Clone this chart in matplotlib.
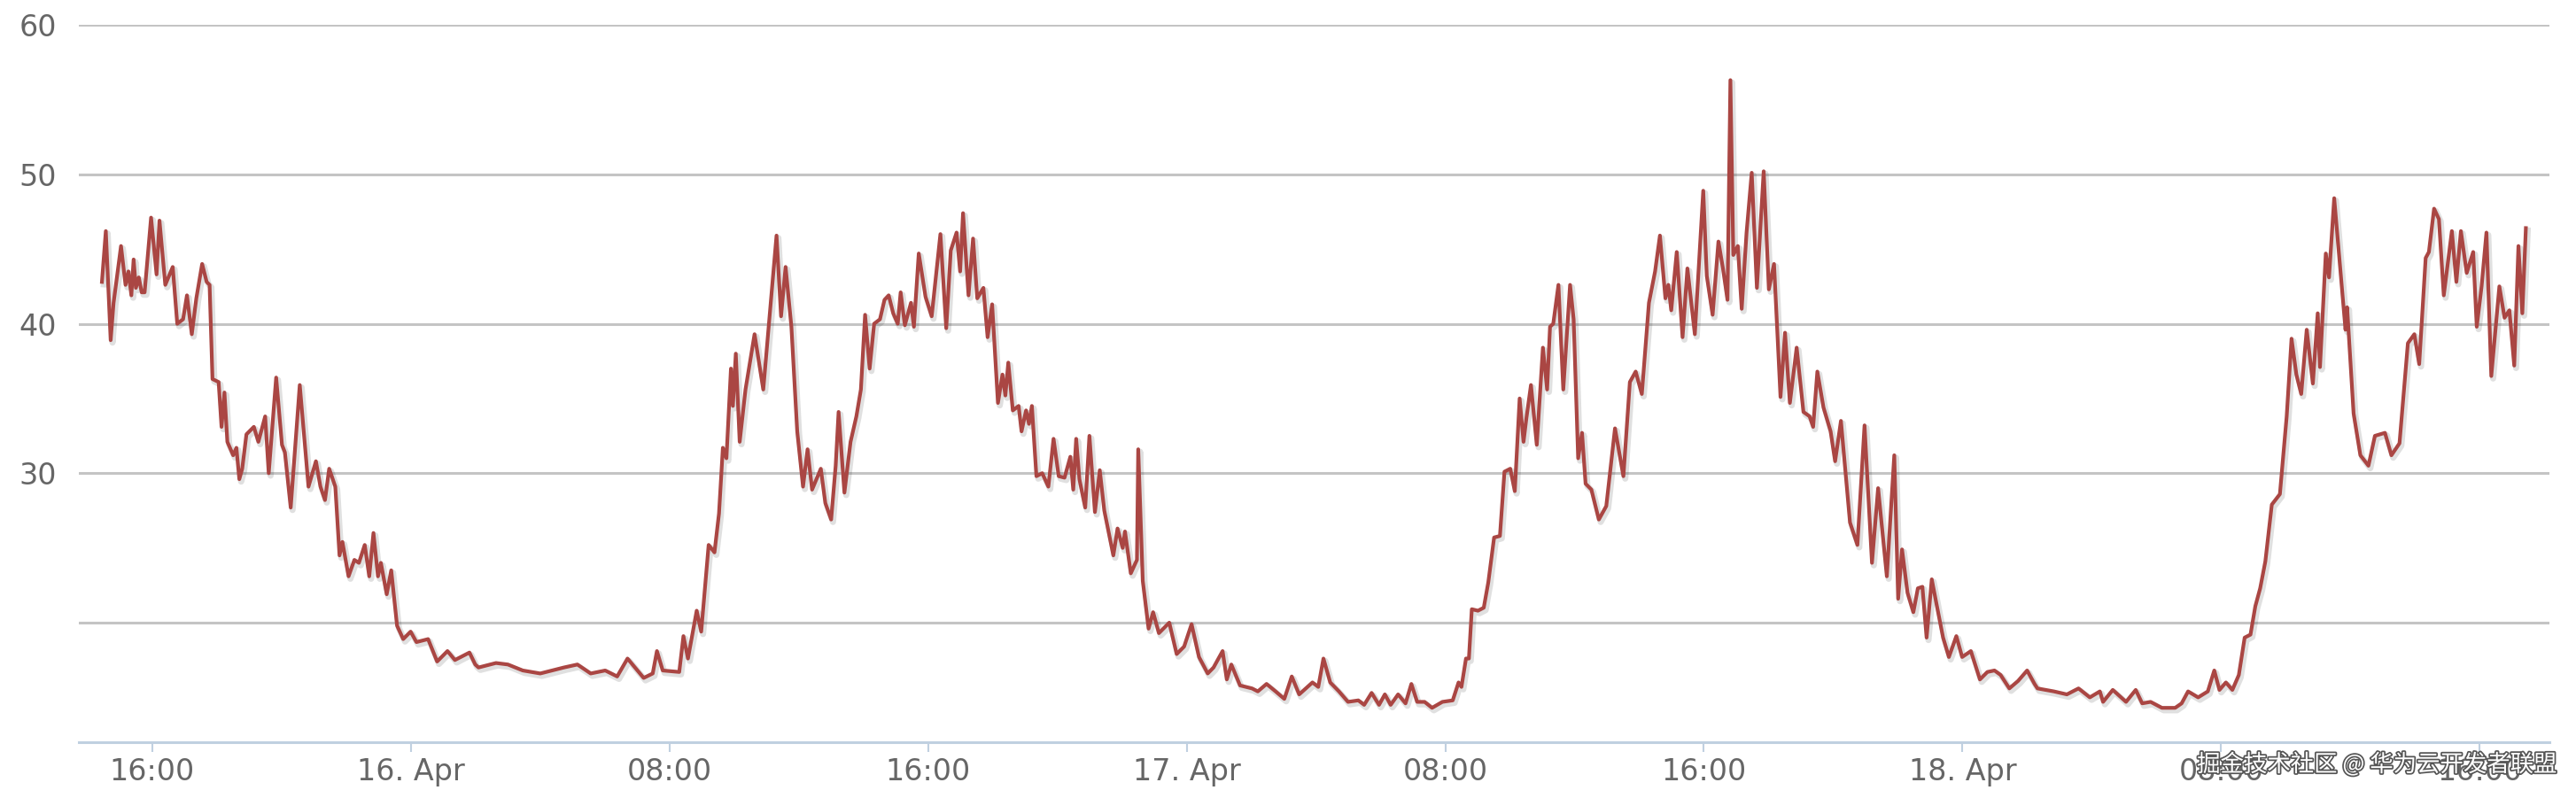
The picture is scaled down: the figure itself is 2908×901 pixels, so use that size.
import matplotlib
matplotlib.use("Agg")
import matplotlib.pyplot as plt
import matplotlib.dates as mdates
import matplotlib.patheffects as pe
import numpy as np
import datetime as dt

# hours since 15 Apr 00:00, and the value
hours_15pm = [14.44, 14.56, 14.71, 14.80, 15.03, 15.17, 15.26, 15.35, 15.42, 15.49, 15.58, 15.67,
              15.76, 15.96, 16.13, 16.22, 16.40, 16.63, 16.77, 16.95, 17.07, 17.22, 17.36, 17.54,
              17.68, 17.77, 17.86, 18.05, 18.14, 18.23, 18.32, 18.50, 18.60, 18.69, 18.78, 18.91,
              19.14, 19.28, 19.49, 19.60, 19.83, 20.01, 20.10, 20.28, 20.56, 20.83, 21.06, 21.20,
              21.34, 21.47, 21.66, 21.79, 21.88, 22.07, 22.25, 22.39, 22.57, 22.71, 22.84, 22.98,
              23.07, 23.25, 23.39, 23.57, 23.76, 23.99, 24.17, 24.53, 24.81, 25.13, 25.36, 25.81,
              25.99]
vals_15pm = [42.8, 46.2, 38.9, 41.4, 45.2, 42.6, 43.5, 41.9, 44.3, 42.4, 43.1, 42.1,
             42.1, 47.1, 43.3, 46.9, 42.6, 43.8, 40.0, 40.3, 41.9, 39.3, 41.7, 44.0,
             42.8, 42.6, 36.3, 36.1, 33.1, 35.4, 32.1, 31.2, 31.7, 29.6, 30.3, 32.6,
             33.1, 32.1, 33.8, 30.0, 36.4, 31.9, 31.4, 27.7, 35.9, 29.1, 30.8, 29.1,
             28.2, 30.3, 29.1, 24.5, 25.4, 23.1, 24.2, 24.0, 25.2, 23.1, 26.0, 23.1,
             24.0, 21.9, 23.5, 19.8, 18.9, 19.4, 18.7, 18.9, 17.4, 18.1, 17.5, 18.0,
             17.2]

hours_16 = [26.09, 26.63, 27.00, 27.46, 28.00, 28.73, 29.15, 29.56, 30.01, 30.38, 30.70, 31.20,
            31.48, 31.61, 31.79, 32.30, 32.43, 32.57, 32.84, 32.98, 33.21, 33.39, 33.53, 33.65,
            33.76, 33.90, 33.96, 34.05, 34.17, 34.35, 34.63, 34.90, 35.31, 35.45, 35.59, 35.77,
            35.95, 36.13, 36.27, 36.41, 36.68, 36.82, 37.00, 37.14, 37.23, 37.41, 37.60, 37.78,
            37.92, 38.05, 38.19, 38.33, 38.51, 38.65, 38.78, 38.92, 39.06, 39.15, 39.28, 39.47,
            39.56, 39.71, 39.92, 40.11, 40.38, 40.56, 40.70, 40.88, 40.99, 41.08, 41.25, 41.39,
            41.52, 41.71, 41.84, 41.98, 42.16, 42.30, 42.39, 42.48, 42.62, 42.80, 42.89, 43.03,
            43.12, 43.21, 43.35, 43.53, 43.72, 43.88, 44.04, 44.22, 44.40, 44.49, 44.58, 44.68,
            44.86, 44.99, 45.16, 45.31, 45.45, 45.73, 45.86, 46.02, 46.09, 46.27, 46.46, 46.50,
            46.64, 46.82, 46.96, 47.14, 47.46, 47.69, 47.92, 48.15, 48.38, 48.65, 48.83, 49.11,
            49.24, 49.38, 49.65, 50.02]
vals_16 = [17.0, 17.3, 17.2, 16.8, 16.6, 17.0, 17.2, 16.6, 16.8, 16.4, 17.6, 16.3,
           16.6, 18.1, 16.8, 16.7, 19.1, 17.6, 20.8, 19.4, 25.2, 24.7, 27.3, 31.7,
           31.0, 37.0, 34.5, 38.0, 32.1, 35.6, 39.3, 35.6, 45.9, 40.5, 43.8, 39.8,
           32.8, 29.1, 31.6, 28.9, 30.3, 28.0, 26.9, 30.5, 34.1, 28.7, 32.1, 33.8,
           35.6, 40.6, 37.0, 40.0, 40.3, 41.6, 41.9, 40.7, 40.0, 42.1, 39.9, 41.4,
           39.8, 44.7, 41.8, 40.5, 46.0, 39.7, 44.9, 46.1, 43.5, 47.4, 41.9, 45.7,
           41.7, 42.4, 39.1, 41.3, 34.7, 36.6, 35.2, 37.4, 34.2, 34.5, 32.8, 34.2,
           33.3, 34.5, 29.8, 30.0, 29.1, 32.3, 29.8, 29.7, 31.1, 28.9, 32.3, 29.6,
           27.7, 32.5, 27.4, 30.2, 27.5, 24.5, 26.3, 25.0, 26.1, 23.3, 24.2, 31.6,
           22.8, 19.6, 20.7, 19.3, 20.0, 17.9, 18.4, 19.9, 17.7, 16.6, 17.0, 18.1,
           16.2, 17.2, 15.8, 15.6]

hours_17 = [50.20, 50.47, 50.75, 51.02, 51.25, 51.48, 51.89, 52.07, 52.23, 52.44, 52.71, 52.99,
            53.31, 53.49, 53.72, 53.95, 54.13, 54.31, 54.54, 54.77, 54.95, 55.13, 55.36, 55.59,
            55.91, 56.23, 56.41, 56.50, 56.64, 56.73, 56.82, 57.01, 57.19, 57.33, 57.51, 57.69,
            57.83, 58.01, 58.15, 58.30, 58.42, 58.51, 58.65, 58.83, 59.02, 59.15, 59.24, 59.34,
            59.50, 59.65, 59.86, 59.97, 60.11, 60.23, 60.34, 60.52, 60.75, 60.98, 61.25, 61.51,
            61.71, 61.89, 62.08, 62.30, 62.49, 62.64, 62.81, 62.90, 62.99, 63.16, 63.34, 63.49,
            63.72, 63.98, 64.09, 64.27, 64.45, 64.59, 64.73, 64.82, 64.91, 65.05, 65.17, 65.32,
            65.48, 65.64, 65.85, 66.01, 66.17, 66.37, 66.51, 66.66, 66.87, 67.08, 67.27, 67.38,
            67.51, 67.70, 67.92, 68.06, 68.24, 68.52, 68.75, 68.97, 69.20, 69.39, 69.66, 69.89,
            70.01, 70.13, 70.30, 70.48, 70.62, 70.76, 70.89, 71.05, 71.21, 71.40, 71.58, 71.81,
            71.99, 72.26, 72.54, 72.77, 72.99, 73.18, 73.45, 73.72, 74.00, 74.23]
vals_17 = [15.4, 15.9, 15.4, 14.9, 16.4, 15.2, 16.0, 15.7, 17.6, 16.0, 15.4, 14.7,
           14.8, 14.5, 15.3, 14.5, 15.2, 14.5, 15.2, 14.6, 15.9, 14.7, 14.7, 14.3,
           14.7, 14.8, 16.0, 15.7, 17.6, 17.6, 20.9, 20.8, 21.0, 22.7, 25.7, 25.8,
           30.1, 30.3, 28.8, 35.0, 32.1, 33.7, 35.9, 31.9, 38.4, 35.6, 39.8, 40.0,
           42.6, 35.6, 42.6, 40.3, 31.0, 32.7, 29.3, 28.9, 26.9, 27.8, 33.0, 29.8,
           36.1, 36.8, 35.3, 41.4, 43.5, 45.9, 41.7, 42.6, 40.9, 44.8, 39.1, 43.7,
           39.3, 48.9, 43.2, 40.6, 45.5, 43.7, 41.6, 56.3, 44.6, 45.2, 41.0, 46.1,
           50.1, 42.4, 50.2, 42.3, 44.0, 35.1, 39.4, 34.7, 38.4, 34.1, 33.8, 33.1,
           36.8, 34.4, 32.8, 30.8, 33.5, 26.7, 25.2, 33.2, 24.0, 29.0, 23.1, 31.2,
           21.6, 24.9, 22.0, 20.7, 22.3, 22.4, 19.0, 22.9, 21.1, 19.0, 17.7, 19.1,
           17.7, 18.1, 16.2, 16.7, 16.8, 16.5, 15.6, 16.1, 16.8, 15.9]

hours_18 = [74.32, 74.83, 75.23, 75.59, 75.94, 76.25, 76.35, 76.65, 77.06, 77.36, 77.56, 77.82,
            78.17, 78.58, 78.78, 78.98, 79.29, 79.59, 79.79, 79.95, 80.15, 80.35, 80.55, 80.73,
            80.91, 81.06, 81.21, 81.37, 81.57, 81.82, 82.03, 82.18, 82.33, 82.48, 82.65, 82.84,
            82.99, 83.06, 83.24, 83.34, 83.50, 83.70, 83.85, 83.90, 84.10, 84.31, 84.56, 84.76,
            85.07, 85.27, 85.52, 85.78, 85.98, 86.13, 86.33, 86.43, 86.59, 86.74, 86.89, 87.14,
            87.28, 87.42, 87.60, 87.80, 87.91, 88.06, 88.21, 88.36, 88.61, 88.77, 88.92, 89.07,
            89.20, 89.32, 89.43]
vals_18 = [15.6, 15.4, 15.2, 15.6, 15.0, 15.4, 14.7, 15.5, 14.7, 15.5, 14.6, 14.7,
           14.3, 14.3, 14.6, 15.4, 15.0, 15.4, 16.8, 15.5, 16.0, 15.5, 16.5, 19.0,
           19.2, 21.1, 22.3, 24.1, 27.9, 28.6, 33.8, 39.0, 36.6, 35.3, 39.6, 36.0,
           40.7, 37.1, 44.7, 43.1, 48.4, 43.4, 39.6, 41.1, 34.0, 31.2, 30.5, 32.5,
           32.7, 31.2, 32.0, 38.7, 39.3, 37.3, 44.4, 44.8, 47.7, 47.0, 41.9, 46.2,
           42.8, 46.2, 43.4, 44.8, 39.8, 42.5, 46.1, 36.5, 42.5, 40.4, 40.9, 37.2,
           45.2, 40.7, 46.4]

ytick_vals = [20, 30, 40, 50, 60]
ytick_text = ["", "30", "40", "50", "60"]
watermark = "掘金技术社区 @ 华为云开发者联盟"

start = dt.datetime(2014, 4, 15)
hours = hours_15pm + hours_16 + hours_17 + hours_18
vals = vals_15pm + vals_16 + vals_17 + vals_18
times = [start + dt.timedelta(hours=h) for h in hours]

fig = plt.figure(figsize=(29.08, 9.01), dpi=100)
ax = fig.add_axes([0.0306, 0.0699, 0.9591, 0.899])

ax.plot(times, vals, color="#AA4643", lw=3.0, solid_joinstyle="round",
        path_effects=[pe.SimpleLineShadow(offset=(1.5, -2), shadow_color="k", alpha=0.12, linewidth=5),
                      pe.Normal()])

ax.set_ylim(12, 60)
ax.set_xlim(start + dt.timedelta(hours=13.725), start + dt.timedelta(hours=90.16))
ax.set_yticks(ytick_vals)
ax.set_yticklabels(ytick_text)
ax.grid(axis="y", color="#C4C4C4", lw=2.2)
ax.set_axisbelow(True)

ax.xaxis.set_major_locator(mdates.HourLocator(byhour=[0, 8, 16]))
def fmt(x, pos):
    d = mdates.num2date(x)
    if d.hour == 0:
        return d.strftime("%d. %b")
    return d.strftime("%H:%M")
ax.xaxis.set_major_formatter(plt.FuncFormatter(fmt))

for s in ["top", "right", "left"]:
    ax.spines[s].set_visible(False)
ax.spines["bottom"].set_color("#C0D0E0")
ax.spines["bottom"].set_linewidth(2.2)

ax.tick_params(axis="y", length=0, pad=18, labelsize=24, labelcolor="#666666")
ax.tick_params(axis="x", length=8, width=1.5, color="#C0D0E0", pad=4, labelsize=24,
               labelcolor="#666666")

fig.text(0.9925, 0.042, watermark, ha="right", va="center", fontsize=19, color="white",
         family=["Noto Sans CJK SC", "DejaVu Sans"],
         path_effects=[pe.withStroke(linewidth=2.5, foreground="#555555")])

fig.savefig("out.png", dpi=100)
